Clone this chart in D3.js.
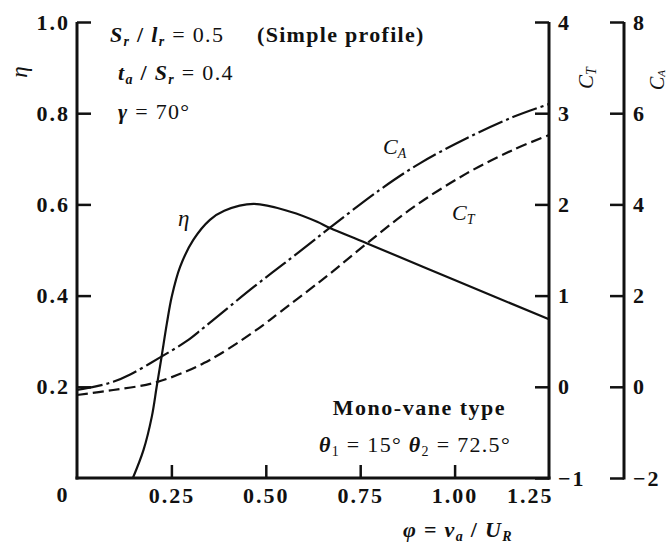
<!DOCTYPE html>
<html><head><meta charset="utf-8">
<script src="https://cdn.jsdelivr.net/npm/d3@7"></script>
<style>
html,body{margin:0;padding:0;background:#fff;}
svg{display:block;}
text{font-family:"Liberation Serif","Times New Roman",serif;fill:#111;}
.tick text{font-size:22px;font-weight:bold;letter-spacing:2px;}
</style></head>
<body>
<svg id="c" width="670" height="547"></svg>
<script>
// ---- data ----
const phiEta = [0.148, 0.176, 0.198, 0.211, 0.224, 0.238, 0.251, 0.273, 0.308, 0.352, 0.390, 0.468, 0.565, 0.636, 0.670, 0.767, 1.000, 1.250];
const etaVals = [0.000, 0.061, 0.134, 0.200, 0.266, 0.339, 0.398, 0.463, 0.522, 0.566, 0.586, 0.601, 0.584, 0.562, 0.548, 0.515, 0.434, 0.348];
const phiCT = [0, 0.096, 0.202, 0.290, 0.336, 0.371, 0.432, 0.494, 0.538, 0.636, 0.670, 0.767, 0.891, 1.032, 1.156, 1.25];
const ctVals = [-0.09, -0.035, 0.04, 0.17, 0.26, 0.34, 0.50, 0.68, 0.82, 1.13, 1.24, 1.57, 1.97, 2.34, 2.60, 2.76];
const phiCA = [0, 0.05, 0.096, 0.141, 0.219, 0.290, 0.336, 0.468, 0.548, 0.636, 0.670, 0.802, 0.908, 1.032, 1.156, 1.25];
const caVals = [-0.07, 0.01, 0.11, 0.27, 0.64, 1.00, 1.30, 2.19, 2.70, 3.27, 3.49, 4.32, 4.90, 5.45, 5.92, 6.20];
const etaTicks = [0.2, 0.4, 0.6, 0.8, 1.0];
const phiTicks = [0.25, 0.5, 0.75, 1.0, 1.25];
const ctTicks = [-1, 0, 1, 2, 3, 4];
const caTicks = [-2, 0, 2, 4, 6, 8];

// ---- scales ----
const L = 77, R = 549, T = 22, B = 478, RA = 624;
const x = d3.scaleLinear([0, 1.25], [L, R]);
const yEta = d3.scaleLinear([0, 1], [B, T]);
const yCT = d3.scaleLinear([-1, 4], [B, T]);
const yCA = d3.scaleLinear([-2, 8], [B, T]);

const svg = d3.select("#c");

function styleAxis(g){
  g.select(".domain").attr("stroke","#111").attr("stroke-width",3);
  g.selectAll(".tick line").attr("stroke","#111").attr("stroke-width",2.5);
  g.selectAll(".tick text").attr("fill","#111");
}

// left axis
svg.append("g").attr("transform",`translate(${L},0)`)
  .call(d3.axisLeft(yEta).tickValues(etaTicks).tickFormat(d3.format(".1f")).tickSize(-14).tickSizeOuter(0).tickPadding(7))
  .call(styleAxis)
  .call(g=>g.select(".domain").attr("d",`M0,${T}V${B+1.5}`));
// bottom axis
svg.append("g").attr("transform",`translate(0,${B})`)
  .call(d3.axisBottom(x).tickValues(phiTicks).tickFormat(d3.format(".2f")).tickSize(-13).tickSizeOuter(0).tickPadding(9))
  .call(styleAxis)
  .call(g=>g.select(".domain").attr("d",`M${L-1.5},0H${R+1.5}`))
  .call(g=>g.selectAll(".tick").filter(d=>d===1.25).select("text").attr("text-anchor","end").attr("x",4))
  .call(g=>g.selectAll(".tick").filter(d=>d===1.25).select("line").remove());
// CT axis
svg.append("g").attr("transform",`translate(${R},0)`)
  .call(d3.axisRight(yCT).tickValues(ctTicks).tickFormat(d=>d<0?"\u2212"+Math.abs(d):d).tickSize(-14).tickSizeOuter(0).tickPadding(9))
  .call(styleAxis)
  .call(g=>g.select(".domain").attr("d",`M0,${T}V${B+1.5}`));
// CA axis
svg.append("g").attr("transform",`translate(${RA},0)`)
  .call(d3.axisRight(yCA).tickValues(caTicks).tickFormat(d=>d<0?"\u2212"+Math.abs(d):d).tickSize(-14).tickSizeOuter(0).tickPadding(9))
  .call(styleAxis)
  .call(g=>g.select(".domain").attr("d",`M0,${T}V${B+1.5}`));

// origin label
svg.append("text").attr("x",62).attr("y",502).attr("text-anchor","middle")
  .style("font-size","22px").style("font-weight","bold").text("0");

// ---- curves ----
const curve = d3.curveCatmullRom.alpha(0.5);
const etaLine = d3.line().x(d=>x(d[0])).y(d=>yEta(d[1])).curve(curve);
const ctLine = d3.line().x(d=>x(d[0])).y(d=>yCT(d[1])).curve(curve);
const caLine = d3.line().x(d=>x(d[0])).y(d=>yCA(d[1])).curve(curve);

svg.append("path").attr("d",etaLine(d3.zip(phiEta,etaVals)))
  .attr("fill","none").attr("stroke","#111").attr("stroke-width",2.2);
svg.append("path").attr("d",ctLine(d3.zip(phiCT,ctVals)))
  .attr("fill","none").attr("stroke","#111").attr("stroke-width",2.2).attr("stroke-dasharray","11,5");
svg.append("path").attr("d",caLine(d3.zip(phiCA,caVals)))
  .attr("fill","none").attr("stroke","#111").attr("stroke-width",2.2).attr("stroke-dasharray","26,4,3,4");

// ---- labels ----
function rich(xp, yp, parts, opts={}){
  const t = svg.append("text").attr("x",xp).attr("y",yp)
    .style("font-size",(opts.size||22)+"px")
    .style("letter-spacing",(opts.ls!==undefined?opts.ls:1.3)+"px");
  if(opts.anchor) t.attr("text-anchor",opts.anchor);
  if(opts.rotate) t.attr("transform",`rotate(-90,${xp},${yp})`);
  parts.forEach(p=>{
    const s = t.append("tspan").text(p.t);
    if(p.i) s.style("font-style","italic");
    if(p.b) s.style("font-weight","bold");
    if(p.sub){ s.style("font-size",(opts.subSize||14)+"px").attr("dy",opts.subDy!==undefined?opts.subDy:4); }
    if(p.up){ s.attr("dy",-(opts.subDy!==undefined?opts.subDy:4)); }
  });
  return t;
}

// top-left annotations
rich(110, 42, [{t:"S",i:1,b:1},{t:"r",i:1,b:1,sub:1},{t:" / ",up:1,b:1},{t:"l",i:1,b:1},{t:"r",i:1,b:1,sub:1},{t:" = 0.5",up:1}]);
rich(257, 42, [{t:"(Simple profile)",b:1}]);
rich(118, 80, [{t:"t",i:1,b:1},{t:"a",i:1,b:1,sub:1},{t:" / ",up:1,b:1},{t:"S",i:1,b:1},{t:"r",i:1,b:1,sub:1},{t:" = 0.4",up:1}]);
rich(118, 119, [{t:"γ",i:1,b:1},{t:" = 70°"}]);

// bottom-right annotations
rich(506, 415, [{t:"Mono-vane type",b:1}], {anchor:"end", ls:1.5});
rich(511, 452, [{t:"θ",i:1,b:1},{t:"1",sub:1},{t:" = 15°   ",up:1},{t:"θ",i:1,b:1},{t:"2",sub:1},{t:" = 72.5°",up:1}], {anchor:"end"});

// curve labels
rich(178, 226, [{t:"η",i:1}], {size:23, ls:0});
rich(383, 154, [{t:"C",i:1},{t:"A",i:1,sub:1}], {size:22, ls:0});
rich(452, 220, [{t:"C",i:1},{t:"T",i:1,sub:1}], {size:22, ls:0});

// axis titles
rich(27, 72, [{t:"η",i:1}], {size:23, anchor:"middle", rotate:1, ls:0});
rich(593, 78, [{t:"C",i:1},{t:"T",i:1,sub:1}], {size:21, anchor:"middle", rotate:1, ls:0, subDy:3});
rich(664, 80, [{t:"C",i:1},{t:"A",i:1,sub:1}], {size:20, anchor:"middle", rotate:1, ls:0, subSize:11, subDy:1});

// x title
rich(403, 537, [{t:"φ",b:1,i:1},{t:" = ",b:1},{t:"v",i:1,b:1},{t:"a",i:1,b:1,sub:1},{t:" / ",b:1,up:1},{t:"U",i:1,b:1},{t:"R",i:1,b:1,sub:1}], {size:22});
</script>
</body></html>
